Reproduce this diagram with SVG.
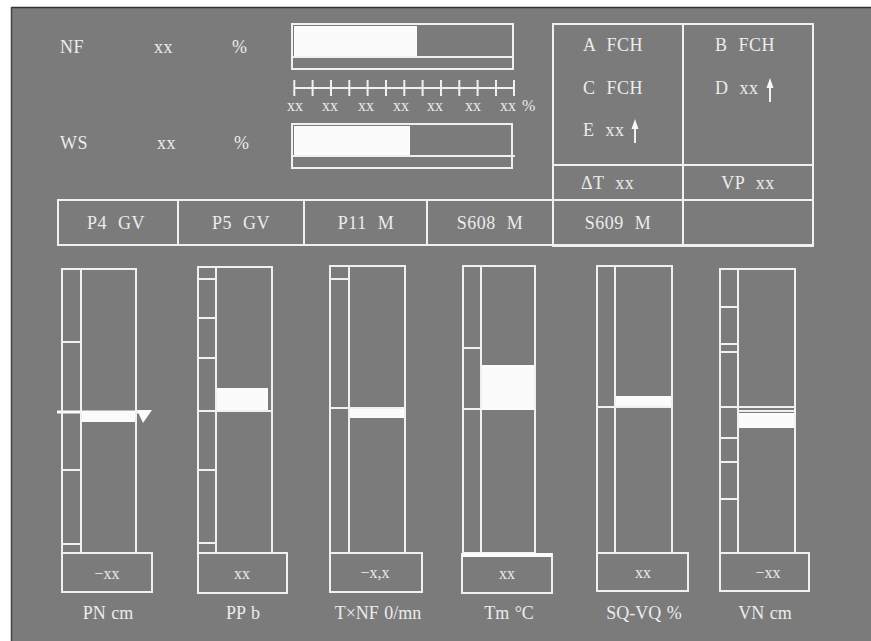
<svg xmlns="http://www.w3.org/2000/svg" width="871" height="641" viewBox="0 0 871 641">
<defs>
<style>
.ln{stroke:#f0f0f0;stroke-width:2;fill:none}
.wf{fill:#fbfbfb;stroke:none}
.t{font-family:"Liberation Serif","Times New Roman",serif;font-size:18px;fill:#ececec;letter-spacing:0.5px;word-spacing:6px}
.b{font-family:"Liberation Serif","Times New Roman",serif;font-size:18px;fill:#ececec;word-spacing:1px}
.s{font-family:"Liberation Serif","Times New Roman",serif;font-size:16px;fill:#ececec}
.m{text-anchor:middle}
</style>
<g id="up-arrow">
<line x1="0" y1="5" x2="0" y2="24" stroke="#f0f0f0" stroke-width="2"/>
<polygon points="0,0 -3.5,10 3.5,10" fill="#f8f8f8"/>
</g>
</defs>
<rect x="0" y="0" width="871" height="641" fill="#ffffff"/>
<rect x="11" y="7" width="860" height="634" fill="#7b7b7b"/>
<line x1="11" y1="7.5" x2="871" y2="7.5" stroke="#333" stroke-width="1.5"/>
<line x1="11.5" y1="7" x2="11.5" y2="641" stroke="#444" stroke-width="1.5"/>

<g id="nf-readout">
<text class="t" x="60" y="53">NF</text>
<text class="t" x="154" y="53">xx</text>
<text class="t" x="232" y="53">%</text>
</g>
<g id="ws-readout">
<text class="t" x="60" y="149">WS</text>
<text class="t" x="157" y="149">xx</text>
<text class="t" x="234" y="149">%</text>
</g>

<g id="nf-bar">
<rect class="wf" x="294" y="26" width="123" height="30"/>
<rect class="ln" x="292" y="24" width="221" height="45"/>
<line class="ln" x1="293" y1="57" x2="512" y2="57"/>
</g>

<g id="scale">
<line class="ln" x1="294" y1="88" x2="514" y2="88"/>
<g stroke="#f0f0f0" stroke-width="2">
<line x1="294.3" y1="80" x2="294.3" y2="96"/>
<line x1="312.6" y1="80" x2="312.6" y2="96"/>
<line x1="331" y1="80" x2="331" y2="96"/>
<line x1="349.3" y1="80" x2="349.3" y2="96"/>
<line x1="367.6" y1="80" x2="367.6" y2="96"/>
<line x1="386" y1="80" x2="386" y2="96"/>
<line x1="404.3" y1="80" x2="404.3" y2="96"/>
<line x1="422.6" y1="80" x2="422.6" y2="96"/>
<line x1="441" y1="80" x2="441" y2="96"/>
<line x1="459.3" y1="80" x2="459.3" y2="96"/>
<line x1="477.6" y1="80" x2="477.6" y2="96"/>
<line x1="496" y1="80" x2="496" y2="96"/>
<line x1="514" y1="80" x2="514" y2="96"/>
</g>
<text class="s m" x="295" y="111">xx</text>
<text class="s m" x="330" y="111">xx</text>
<text class="s m" x="366" y="111">xx</text>
<text class="s m" x="401" y="111">xx</text>
<text class="s m" x="435" y="111">xx</text>
<text class="s m" x="473" y="111">xx</text>
<text class="s m" x="508" y="111">xx</text>
<text class="s" x="522" y="111">%</text>
</g>

<g id="ws-bar">
<rect class="wf" x="294" y="126" width="116" height="30"/>
<rect class="ln" x="292" y="124" width="220" height="44"/>
<line class="ln" x1="293" y1="156" x2="515" y2="156"/>
</g>

<g id="status-panel">
<rect class="ln" x="553" y="24" width="260" height="222"/>
<line class="ln" x1="683" y1="24" x2="683" y2="246"/>
<line class="ln" x1="553" y1="165" x2="813" y2="165"/>
<text class="t" x="583" y="51">A FCH</text>
<text class="t" x="715" y="51">B FCH</text>
<text class="t" x="583" y="94">C FCH</text>
<text class="t" x="715" y="94">D xx</text>
<use href="#up-arrow" x="770" y="78"/>
<text class="t" x="583" y="136">E xx</text>
<use href="#up-arrow" x="635" y="119"/>
<text class="t" x="581" y="189">ΔT xx</text>
<text class="t m" x="748" y="189">VP xx</text>
</g>

<g id="mode-row">
<rect class="ln" x="58" y="200" width="755" height="45"/>
<line class="ln" x1="178" y1="200" x2="178" y2="245"/>
<line class="ln" x1="304" y1="200" x2="304" y2="245"/>
<line class="ln" x1="427" y1="200" x2="427" y2="245"/>
<line class="ln" x1="553" y1="200" x2="553" y2="245"/>
<line class="ln" x1="683" y1="200" x2="683" y2="245"/>
<text class="t m" x="116" y="229">P4 GV</text>
<text class="t m" x="241" y="229">P5 GV</text>
<text class="t m" x="366" y="229">P11 M</text>
<text class="t m" x="490" y="229">S608 M</text>
<text class="t m" x="618" y="229">S609 M</text>
</g>

<g id="gauge-pn">
<rect class="wf" x="81" y="411" width="55" height="11"/>
<line x1="57" y1="412" x2="140" y2="412" stroke="#fbfbfb" stroke-width="3"/>
<polygon points="137,410 152,410 143,423" fill="#fbfbfb"/>
<rect class="ln" x="62" y="269" width="74" height="284"/>
<line class="ln" x1="81" y1="269" x2="81" y2="553"/>
<line class="ln" x1="62" y1="342" x2="81" y2="342"/>
<line class="ln" x1="62" y1="470" x2="81" y2="470"/>
<line class="ln" x1="62" y1="544" x2="81" y2="544"/>
<rect class="ln" x="62" y="553" width="90" height="39"/>
<text class="s m" x="107" y="579">−xx</text>
<text class="b m" x="108" y="619">PN cm</text>
</g>

<g id="gauge-pp">
<rect class="wf" x="216" y="388" width="52" height="23"/>
<rect class="ln" x="198" y="267" width="74" height="286"/>
<line class="ln" x1="216" y1="267" x2="216" y2="553"/>
<line class="ln" x1="198" y1="279" x2="216" y2="279"/>
<line class="ln" x1="198" y1="318" x2="216" y2="318"/>
<line class="ln" x1="198" y1="358" x2="216" y2="358"/>
<line class="ln" x1="198" y1="411" x2="272" y2="411"/>
<line class="ln" x1="198" y1="470" x2="216" y2="470"/>
<line class="ln" x1="198" y1="543" x2="216" y2="543"/>
<rect class="ln" x="198" y="553" width="89" height="40"/>
<text class="s m" x="242" y="579">xx</text>
<text class="b m" x="243" y="619">PP b</text>
</g>

<g id="gauge-txnf">
<rect class="wf" x="349" y="407" width="56" height="11"/>
<rect class="ln" x="330" y="266" width="75" height="287"/>
<line class="ln" x1="349" y1="266" x2="349" y2="553"/>
<line class="ln" x1="330" y1="279" x2="349" y2="279"/>
<line class="ln" x1="330" y1="408" x2="405" y2="408"/>
<rect class="ln" x="330" y="553" width="92" height="39"/>
<text class="s m" x="375" y="578">−x,x</text>
<text class="b m" x="378" y="619">T×NF 0/mn</text>
</g>

<g id="gauge-tm">
<rect class="wf" x="481" y="365" width="54" height="45"/>
<rect class="ln" x="463" y="266" width="72" height="287"/>
<line class="ln" x1="481" y1="266" x2="481" y2="553"/>
<line class="ln" x1="463" y1="348" x2="481" y2="348"/>
<line class="ln" x1="463" y1="409" x2="481" y2="409"/>
<rect class="ln" x="462" y="554" width="90" height="39"/>
<line x1="462" y1="555" x2="552" y2="555" stroke="#fbfbfb" stroke-width="4"/>
<text class="s m" x="507" y="579">xx</text>
<text class="b m" x="509" y="619">Tm °C</text>
</g>

<g id="gauge-sqvq">
<rect class="wf" x="615" y="396" width="57" height="12"/>
<rect class="ln" x="597" y="266" width="75" height="287"/>
<line class="ln" x1="615" y1="266" x2="615" y2="553"/>
<line class="ln" x1="597" y1="407" x2="672" y2="407"/>
<rect class="ln" x="597" y="553" width="91" height="38"/>
<text class="s m" x="643" y="578">xx</text>
<text class="b m" x="644" y="619">SQ-VQ %</text>
</g>

<g id="gauge-vn">
<rect class="wf" x="738" y="413" width="57" height="15"/>
<rect class="ln" x="720" y="269" width="75" height="284"/>
<line class="ln" x1="738" y1="269" x2="738" y2="553"/>
<line class="ln" x1="720" y1="307" x2="738" y2="307"/>
<line class="ln" x1="720" y1="344" x2="738" y2="344"/>
<line class="ln" x1="720" y1="352" x2="738" y2="352"/>
<line class="ln" x1="720" y1="407" x2="795" y2="407"/>
<line class="ln" x1="738" y1="411" x2="795" y2="411"/>
<line class="ln" x1="720" y1="438" x2="738" y2="438"/>
<line class="ln" x1="720" y1="462" x2="738" y2="462"/>
<line class="ln" x1="720" y1="499" x2="738" y2="499"/>
<rect class="ln" x="720" y="553" width="89" height="38"/>
<text class="s m" x="768" y="578">−xx</text>
<text class="b m" x="765" y="619">VN cm</text>
</g>
</svg>
